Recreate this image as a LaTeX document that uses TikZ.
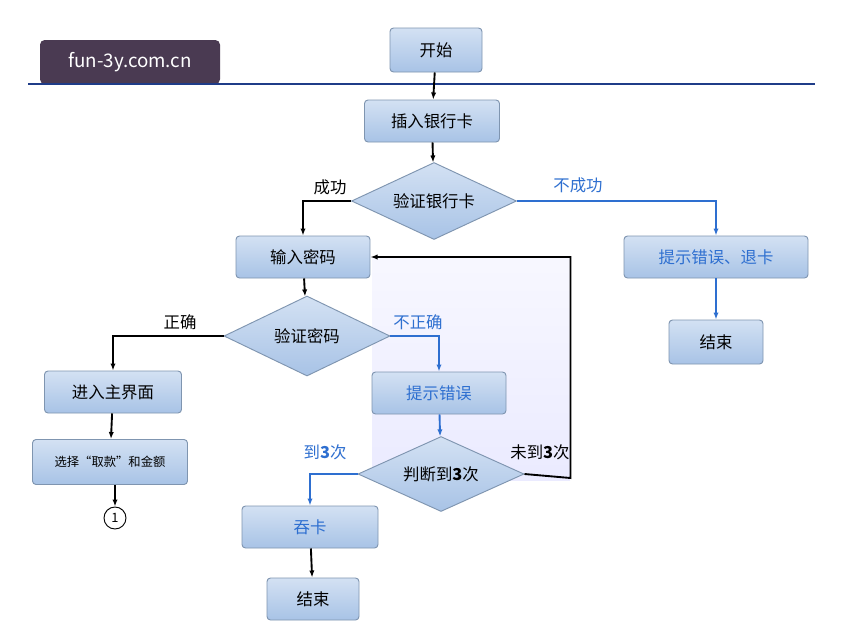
\documentclass[tikz,border=0pt]{standalone}
\usepackage{fontspec}
\setmainfont{Noto Sans CJK SC}
\usetikzlibrary{shapes.geometric,arrows.meta}
\definecolor{bx}{HTML}{A8C3E6}
\definecolor{bxt}{HTML}{D3E1F3}
\definecolor{bd}{HTML}{7F95B0}
\definecolor{bl}{HTML}{2E6FD0}
\definecolor{ttl}{HTML}{1F3C88}
\definecolor{wmc}{HTML}{4A3A52}
\begin{document}
\begin{tikzpicture}[x=0.03cm,y=-0.03cm,
  box/.style={draw=bd,thick,rounded corners=3pt,top color=bxt,bottom color=bx,inner sep=0pt,font=\fontsize{14}{14}\selectfont},
  dia/.style={diamond,draw=bd,thick,top color=bxt,bottom color=bx,inner sep=0pt,font=\fontsize{14}{14}\selectfont},
  bk/.style={line width=1.6pt,-{Latex[length=6pt]}},
  bu/.style={line width=1.6pt,draw=bl,-{Latex[length=6pt]}},
  lb/.style={font=\fontsize{14}{14}\selectfont}]
\useasboundingbox (0,0) rectangle (851,633);
\fill[white] (0,0) rectangle (851,633);
\shade[top color=blue!3,bottom color=blue!8] (372,258) rectangle (570,480);
\node[fill=wmc,rounded corners=4pt,minimum width=180*0.03cm,minimum height=44*0.03cm,text=white,font=\fontsize{16}{16}\selectfont] (wm) at (130,62) {fun-3y.com.cn};
\coordinate (l1) at (28,84); \coordinate (l2) at (815,84);
\draw[ttl,line width=2pt] (l1) -- (l2);
\node[box,minimum width=92*0.03cm,minimum height=44*0.03cm] (start) at (436,50) {开始};
\node[box,minimum width=135*0.03cm,minimum height=42*0.03cm] (card) at (432,121) {插入银行卡};
\node[dia,minimum width=165*0.03cm,minimum height=77*0.03cm,aspect=2.1] (vcard) at (434,201) {验证银行卡};
\node[box,minimum width=134*0.03cm,minimum height=42*0.03cm] (pwd) at (303,257) {输入密码};
\node[box,minimum width=184*0.03cm,minimum height=42*0.03cm,text=bl] (err1) at (716,257) {提示错误、退卡};
\node[box,minimum width=94*0.03cm,minimum height=44*0.03cm] (end1) at (716,342) {结束};
\node[dia,minimum width=166*0.03cm,minimum height=80*0.03cm,aspect=2.1] (vpwd) at (307,336) {验证密码};
\node[box,minimum width=137*0.03cm,minimum height=42*0.03cm] (main) at (113,392) {进入主界面};
\node[box,minimum width=155*0.03cm,minimum height=45*0.03cm,font=\fontsize{10.5}{10.5}\selectfont] (sel) at (110,462) {选择“取款”和金额};
\node[circle,draw,thick,minimum size=22*0.03cm,inner sep=0pt,font=\fontsize{11}{11}\selectfont] (c1) at (115,518) {1};
\node[box,minimum width=134*0.03cm,minimum height=42*0.03cm,text=bl] (err2) at (439,393) {提示错误};
\node[dia,minimum width=166*0.03cm,minimum height=75*0.03cm,aspect=2.2] (cnt) at (441,474) {判断到\textbf{3}次};
\node[box,minimum width=136*0.03cm,minimum height=42*0.03cm,text=bl] (eat) at (310,527) {吞卡};
\node[box,minimum width=92*0.03cm,minimum height=42*0.03cm] (end2) at (313,599) {结束};
\node[lb] (t1) at (330,187) {成功};
\node[lb,text=bl] (t2) at (578,185) {不成功};
\node[lb] (t3) at (180,322) {正确};
\node[lb,text=bl] (t4) at (418,322) {不正确};
\node[lb,text=bl] (t5) at (325,452) {到\textbf{3}次};
\node[lb] (t6) at (540,452) {未到\textbf{3}次};
\draw[bk] (start) -- (card);
\draw[bk] (card) -- (vcard);
\draw[bk] (vcard.west) -| (pwd.north);
\draw[bu] (vcard.east) -| (err1.north);
\draw[bu] (err1) -- (end1);
\draw[bk] (pwd) -- (vpwd);
\draw[bk] (vpwd.west) -| (main.north);
\draw[bu] (vpwd.east) -| (err2.north);
\draw[bk] (main) -- (sel);
\draw[bk] (sel.south -| c1) -- (c1);
\draw[bu] (err2) -- (cnt);
\draw[bu] (cnt.west) -| (eat.north);
\draw[bk] (eat) -- (end2);
\draw[bk] (cnt.east) -- ++(46,4) |- (pwd.east);
\end{tikzpicture}
\end{document}
